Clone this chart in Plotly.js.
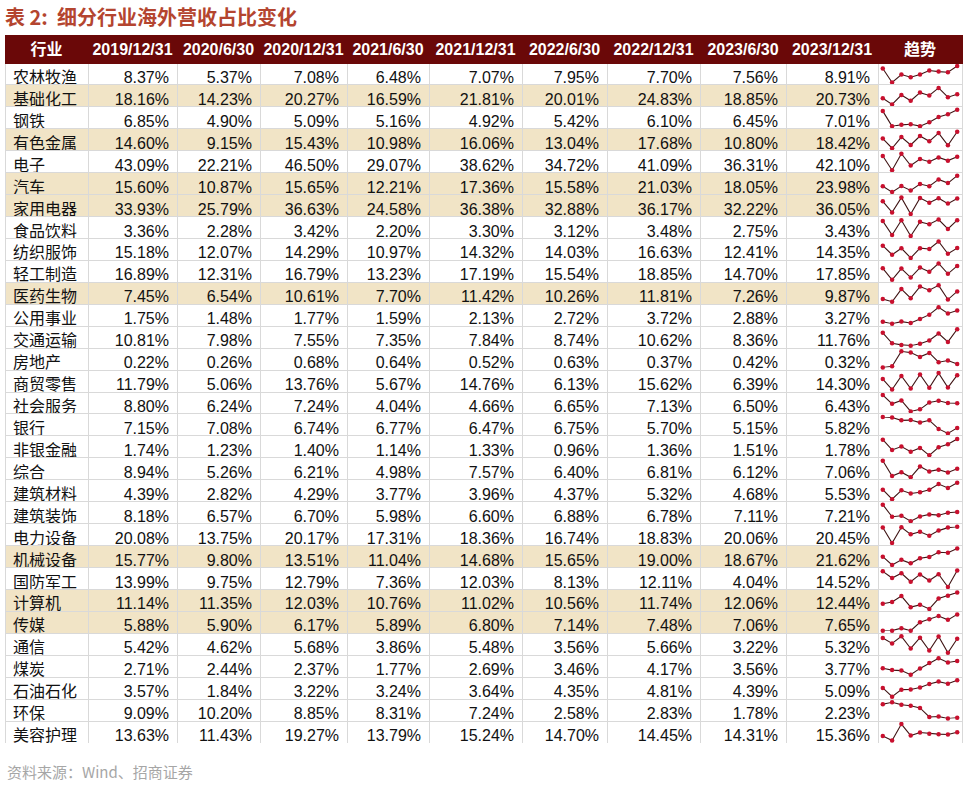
<!DOCTYPE html>
<html><head><meta charset="utf-8">
<script src="https://cdn.plot.ly/plotly-3.0.1.min.js"></script>
<style>html,body{margin:0;padding:0;background:#fff}</style>
</head><body><div id="chart" style="width:969px;height:787px"></div>
<script>
const industries = ['农林牧渔','基础化工','钢铁','有色金属','电子','汽车','家用电器','食品饮料','纺织服饰','轻工制造','医药生物','公用事业','交通运输','房地产','商贸零售','社会服务','银行','非银金融','综合','建筑材料','建筑装饰','电力设备','机械设备','国防军工','计算机','传媒','通信','煤炭','石油石化','环保','美容护理'];
const periods = ['2019/12/31','2020/6/30','2020/12/31','2021/6/30','2021/12/31','2022/6/30','2022/12/31','2023/6/30','2023/12/31'];
const highlighted = ['基础化工','有色金属','汽车','家用电器','医药生物','机械设备','计算机','传媒'];

const p2019H2 = [8.37,18.16,6.85,14.60,43.09,15.60,33.93,3.36,15.18,16.89,7.45,1.75,10.81,0.22,11.79,8.80,7.15,1.74,8.94,4.39,8.18,20.08,15.77,13.99,11.14,5.88,5.42,2.71,3.57,9.09,13.63];
const p2020H1 = [5.37,14.23,4.90,9.15,22.21,10.87,25.79,2.28,12.07,12.31,6.54,1.48,7.98,0.26,5.06,6.24,7.08,1.23,5.26,2.82,6.57,13.75,9.80,9.75,11.35,5.90,4.62,2.44,1.84,10.20,11.43];
const p2020H2 = [7.08,20.27,5.09,15.43,46.50,15.65,36.63,3.42,14.29,16.79,10.61,1.77,7.55,0.68,13.76,7.24,6.74,1.40,6.21,4.29,6.70,20.17,13.51,12.79,12.03,6.17,5.68,2.37,3.22,8.85,19.27];
const p2021H1 = [6.48,16.59,5.16,10.98,29.07,12.21,24.58,2.20,10.97,13.23,7.70,1.59,7.35,0.64,5.67,4.04,6.77,1.14,4.98,3.77,5.98,17.31,11.04,7.36,10.76,5.89,3.86,1.77,3.24,8.31,13.79];
const p2021H2 = [7.07,21.81,4.92,16.06,38.62,17.36,36.38,3.30,14.32,17.19,11.42,2.13,7.84,0.52,14.76,4.66,6.47,1.33,7.57,3.96,6.60,18.36,14.68,12.03,11.02,6.80,5.48,2.69,3.64,7.24,15.24];
const p2022H1 = [7.95,20.01,5.42,13.04,34.72,15.58,32.88,3.12,14.03,15.54,10.26,2.72,8.74,0.63,6.13,6.65,6.75,0.96,6.40,4.37,6.88,16.74,15.65,8.13,10.56,7.14,3.56,3.46,4.35,2.58,14.70];
const p2022H2 = [7.70,24.83,6.10,17.68,41.09,21.03,36.17,3.48,16.63,18.85,11.81,3.72,10.62,0.37,15.62,7.13,5.70,1.36,6.81,5.32,6.78,18.83,19.00,12.11,11.74,7.48,5.66,4.17,4.81,2.83,14.45];
const p2023H1 = [7.56,18.85,6.45,10.80,36.31,18.05,32.22,2.75,12.41,14.70,7.26,2.88,8.36,0.42,6.39,6.50,5.15,1.51,6.12,4.68,7.11,20.06,18.67,4.04,12.06,7.06,3.22,3.56,4.39,1.78,14.31];
const p2023H2 = [8.91,20.73,7.01,18.42,42.10,23.98,36.05,3.43,14.35,17.85,9.87,3.27,11.76,0.32,14.30,6.43,5.82,1.78,7.06,5.53,7.21,20.45,21.62,14.52,12.44,7.65,5.32,3.77,5.09,2.23,15.36];

const series = [p2019H2,p2020H1,p2020H2,p2021H1,p2021H2,p2022H1,p2022H2,p2023H1,p2023H2];

const W = 969, H = 787;
const tableLeft = 5, tableRight = 962, headTop = 35, headH = 28;
const nRows = industries.length;
const tableBottom = 743;
const rowH = (tableBottom - headTop - headH) / nRows;
const colW = [83, 89, 83, 87, 82, 93, 85, 93, 86, 92, 84];

const beige = '#f1e4c6';
const rowFill = industries.map(n => highlighted.includes(n) ? beige : '#ffffff');
const cellFill = [];
for (let c = 0; c < 11; c++) cellFill.push(c === 10 ? industries.map(() => 'rgba(0,0,0,0)') : rowFill);

const cellValues = [industries].concat(series.map(s => s.map(v => v.toFixed(2) + '%'))).concat([industries.map(() => '')]);

const traces = [{
  type: 'table',
  domain: {x: [tableLeft / W, tableRight / W], y: [1 - tableBottom / H, 1 - headTop / H]},
  columnwidth: colW,
  header: {
    values: ['行业'].concat(periods).concat(['趋势']),
    align: 'center',
    height: headH,
    fill: {color: '#6a0808'},
    line: {color: '#6a0808', width: 1},
    font: {family: 'Liberation Sans, Noto Sans CJK SC, sans-serif', size: 16, color: '#ffffff', weight: 'bold'}
  },
  cells: {
    values: cellValues,
    align: ['left'].concat(periods.map(() => 'right')).concat(['center']),
    height: rowH,
    fill: {color: cellFill},
    line: {color: '#d9d9d9', width: 1},
    font: {family: 'Liberation Sans, Noto Sans CJK SC, sans-serif', size: 16, color: '#111111'}
  }
}];

const layout = {
  width: W, height: H,
  margin: {l: 0, r: 0, t: 0, b: 0},
  paper_bgcolor: '#ffffff', plot_bgcolor: 'rgba(0,0,0,0)',
  showlegend: false,
  title: {
    text: '<b>表 2:  细分行业海外营收占比变化</b>',
    x: 5 / W, xanchor: 'left', xref: 'paper',
    y: 1 - 18 / H, yanchor: 'middle', yref: 'paper',
    font: {family: 'Noto Sans CJK SC, sans-serif', size: 20, color: '#b4452f'}
  },
  annotations: [{
    text: '资料来源：Wind、招商证券',
    xref: 'paper', yref: 'paper', x: 5 / W, y: 1 - 771 / H,
    xanchor: 'left', yanchor: 'middle', showarrow: false,
    font: {family: 'Noto Sans CJK SC, Liberation Sans, sans-serif', size: 15, color: '#a6a6a6'}
  }]
};

const xIdx = periods.map((p, i) => i);
for (let r = 0; r < nRows; r++) {
  const k = r + 2;
  const top = headTop + headH + r * rowH;
  const bottom = top + rowH;
  const ys = series.map(s => s[r]);
  const lo = Math.min(...ys), hi = Math.max(...ys);
  traces.push({
    type: 'scatter', mode: 'lines+markers',
    x: xIdx, y: ys,
    xaxis: 'x' + k, yaxis: 'y' + k,
    line: {color: '#3f1414', width: 1.1},
    marker: {color: '#c8102e', size: 4.5},
    cliponaxis: false,
    hoverinfo: 'skip'
  });
  layout['xaxis' + k] = {domain: [880 / W, 960 / W], range: [-0.3, 8.3], visible: false, fixedrange: true, anchor: 'y' + k};
  layout['yaxis' + k] = {domain: [1 - (bottom - 2.5) / H, 1 - (top + 3) / H], range: [lo, hi], visible: false, fixedrange: true, anchor: 'x' + k};
}

Plotly.newPlot('chart', traces, layout, {displayModeBar: false, staticPlot: true});
</script></body></html>
